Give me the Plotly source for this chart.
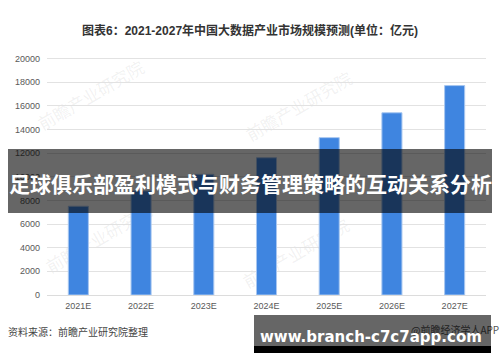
import plotly.graph_objects as go

# ---- data ----
categories = ["2021E", "2022E", "2023E", "2024E", "2025E", "2026E", "2027E"]
market_size = [7500, 8800, 10200, 11600, 13300, 15400, 17700]
y_ticks = [0, 2000, 4000, 6000, 8000, 10000, 12000, 14000, 16000, 18000, 20000]
title_text = "图表6：2021-2027年中国大数据产业市场规模预测(单位：亿元)"
source_text = "资料来源：前瞻产业研究院整理"
credit_text = "@前瞻经济学人APP"
banner_text = "足球俱乐部盈利模式与财务管理策略的互动关系分析"
url_text = "www.branch-c7c7app.com"
watermark_text = "前瞻产业研究院"

# ---- layout geometry (pixels) ----
W, H = 500, 362
L, R, T, B = 47, 14, 56, 67
PW, PH = W - L - R, H - T - B


def px(x):
    return (x - L) / PW


def py(y):
    return (H - B - y) / PH


FONT = "Liberation Sans, Noto Sans CJK SC, sans-serif"
CJK = "Noto Sans CJK SC, sans-serif"

fig = go.Figure()
fig.add_trace(go.Bar(
    x=categories, y=market_size,
    marker=dict(color="#3f85e0", line=dict(color="#a8c7f0", width=1)),
    hoverinfo="skip",
))

shapes = []
# faint watermarks (drawn below bars)
for cx, cy in [(92, 97), (300, 108), (100, 240), (297, 255)]:
    shapes.append(dict(
        type="rect", xref="paper", yref="paper",
        x0=px(cx - 5), x1=px(cx + 5), y0=py(cy + 5), y1=py(cy - 5),
        line=dict(width=0), fillcolor="rgba(0,0,0,0)", layer="below",
        label=dict(text=watermark_text, textangle=-30, textposition="middle center",
                   font=dict(family=CJK, size=17, color="rgba(120,120,120,0.10)")),
    ))
# top dark banner over the plot
shapes.append(dict(
    type="rect", xref="paper", yref="paper",
    x0=px(8), x1=px(492), y0=py(213), y1=py(149),
    line=dict(width=0), fillcolor="rgba(0,0,0,0.6)", layer="above",
))

annotations = [
    dict(text="<b>" + title_text + "</b>", x=px(250), y=py(30), xanchor="center", yanchor="middle",
         font=dict(family=FONT, size=12, color="#333333")),
    dict(text=source_text, x=px(6), y=py(331), xanchor="left", yanchor="middle",
         font=dict(family=CJK, size=10, color="#444444")),
    dict(text=credit_text, x=px(501), y=py(329), xanchor="right", yanchor="middle",
         font=dict(family=CJK, size=10, color="#555555")),
    # bottom banner box (semi-transparent gray) and black strip
    dict(text=" ", x=px(254), y=py(315), xanchor="left", yanchor="top",
         width=237, height=31, borderpad=0, borderwidth=0, bgcolor="rgba(0,0,0,0.6)",
         font=dict(size=10)),
    dict(text=" ", x=px(254), y=py(346), xanchor="left", yanchor="top",
         width=237, height=7, borderpad=0, borderwidth=0, bgcolor="#000000",
         font=dict(size=4)),
    dict(text="<b>" + url_text + "</b>", x=px(371), y=py(337), xanchor="center", yanchor="middle",
         font=dict(family="DejaVu Sans, sans-serif", size=15, color="#ffffff")),
    dict(text="<b>" + banner_text + "</b>", x=px(250), y=py(183), xanchor="center", yanchor="middle",
         font=dict(family=CJK, size=21, color="#ffffff")),
]
for a in annotations:
    a.update(xref="paper", yref="paper", showarrow=False)

fig.update_layout(
    width=W, height=H,
    margin=dict(l=L, r=R, t=T, b=B),
    paper_bgcolor="#ffffff", plot_bgcolor="#ffffff",
    showlegend=False, bargap=0.68,
    shapes=shapes, annotations=annotations,
    xaxis=dict(
        showgrid=False, showline=False, zeroline=False, ticks="",
        tickfont=dict(family=FONT, size=9, color="#595959"),
        ticklabelstandoff=4, fixedrange=True,
    ),
    yaxis=dict(
        range=[0, 20200], tickvals=y_ticks, ticktext=[str(v) for v in y_ticks],
        showgrid=True, gridcolor="#e2e2e2", gridwidth=1,
        zeroline=True, zerolinecolor="#dcdcdc", zerolinewidth=1,
        showline=False, ticks="",
        tickfont=dict(family=FONT, size=9, color="#595959"),
        ticklabelstandoff=6, fixedrange=True,
    ),
)

fig.write_html("out.html")
